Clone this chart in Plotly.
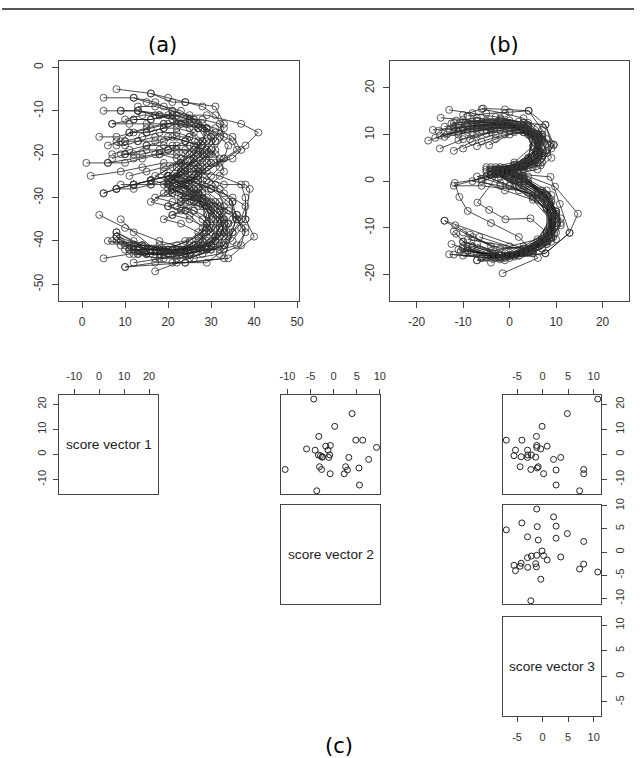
import plotly.graph_objects as go

# (a) raw digit trajectories, one list per written "3"
a_x = [
    [8, 16, 21, 24, 31, 33, 30, 25, 22, 27, 32, 34, 32, 25, 17, 10],
    [5, 12, 17, 21, 26, 29, 27, 22, 20, 25, 29, 30, 26, 19, 11, 5],
    [5, 9, 13, 21, 29, 37, 41, 38, 32, 27, 33, 38, 39, 38, 40, 34, 24, 10],
    [7, 12, 16, 21, 25, 29, 31, 28, 24, 21, 26, 31, 33, 31, 27, 21, 14, 9],
    [12, 16, 20, 24, 28, 31, 35, 36, 33, 29, 25, 30, 35, 38, 37, 33, 22, 17],
    [11, 15, 19, 22, 26, 28, 26, 21, 17, 22, 27, 30, 29, 25, 19, 13, 8],
    [8, 10, 14, 18, 22, 25, 26, 23, 19, 16, 20, 25, 28, 29, 27, 22, 16, 11],
    [8, 10, 13, 17, 21, 24, 27, 28, 25, 21, 19, 23, 28, 32, 33, 30, 23, 15, 9],
    [10, 13, 17, 20, 24, 28, 31, 32, 30, 28, 30, 33, 35, 35, 33, 29, 22, 15],
    [7, 10, 15, 20, 24, 28, 30, 27, 23, 21, 25, 29, 32, 33, 30, 24, 16, 8],
    [1, 6, 12, 17, 22, 26, 28, 25, 21, 24, 29, 32, 31, 27, 20, 14],
    [2, 9, 14, 19, 23, 26, 27, 24, 21, 25, 30, 33, 32, 28, 22, 16],
    [5, 8, 12, 16, 20, 23, 22, 19, 16, 20, 25, 28, 28, 24, 18, 12],
    [9, 12, 15, 19, 22, 25, 28, 30, 28, 24, 21, 25, 29, 32, 34, 31, 25, 18, 11],
    [6, 9, 11, 15, 19, 23, 27, 29, 27, 23, 20, 24, 28, 30, 29, 25, 18, 11, 7],
    [16, 20, 24, 28, 31, 33, 31, 28, 24, 21, 25, 30, 34, 36, 35, 33, 29, 21],
    [9, 13, 18, 22, 27, 31, 35, 37, 35, 31, 27, 32, 37, 38, 38, 35, 33, 24, 17, 10],
    [12, 15, 19, 23, 26, 29, 28, 25, 22, 20, 24, 27, 29, 28, 24, 18, 12],
    [5, 8, 12, 16, 20, 24, 27, 26, 23, 21, 25, 29, 31, 29, 24, 17, 12, 9],
    [9, 12, 16, 20, 24, 27, 29, 27, 24, 22, 26, 30, 32, 30, 25, 18, 10, 4],
    [11, 15, 19, 23, 26, 28, 25, 21, 17, 21, 26, 29, 29, 26, 20, 14, 8],
    [6, 10, 14, 18, 22, 26, 29, 30, 27, 23, 21, 26, 30, 33, 34, 33, 28, 22, 13],
    [13, 17, 21, 25, 29, 32, 34, 33, 29, 25, 22, 27, 32, 36, 37, 35, 30, 23, 15, 12],
    [7, 11, 15, 19, 23, 27, 30, 31, 29, 25, 22, 26, 30, 34, 36, 38, 37, 32, 26, 17, 8],
    [10, 14, 18, 21, 25, 29, 32, 33, 30, 26, 23, 28, 33, 36, 38, 36, 32, 26, 20, 13],
    [12, 16, 20, 23, 26, 28, 27, 24, 21, 19, 23, 27, 29, 28, 24, 19, 12],
    [10, 14, 18, 22, 25, 27, 24, 20, 18, 22, 27, 31, 33, 31, 26, 20, 13, 8],
    [8, 12, 16, 20, 24, 27, 28, 26, 23, 20, 24, 28, 30, 31, 29, 25, 19, 12],
    [13, 17, 21, 25, 28, 30, 29, 26, 24, 26, 29, 31, 32, 30, 26, 21, 16],
    [7, 11, 15, 19, 22, 24, 23, 21, 20, 23, 27, 30, 31, 30, 27, 22, 16, 10, 6],
    [4, 8, 12, 16, 20, 24, 28, 32, 33, 30, 26, 23, 27, 32, 35, 36, 34, 30, 25, 18, 12],
    [15, 19, 22, 25, 27, 26, 23, 21, 20, 24, 28, 31, 33, 32, 28, 22, 15, 8],
]
a_y = [
    [-5, -6, -8, -8, -9, -13, -17, -21, -25, -27, -31, -36, -41, -43, -44, -42],
    [-7, -7, -8, -10, -12, -15, -19, -23, -25, -28, -32, -37, -41, -43, -43, -44],
    [-10, -10, -10, -11, -11, -13, -15, -18, -22, -25, -27, -27, -28, -35, -39, -44, -45, -46],
    [-13, -12, -12, -11, -12, -14, -17, -20, -23, -26, -28, -31, -35, -39, -41, -42, -41, -40],
    [-12, -12, -11, -13, -14, -15, -17, -19, -21, -23, -26, -28, -30, -32, -35, -41, -45, -47],
    [-15, -15, -14, -14, -15, -17, -20, -23, -25, -27, -29, -33, -37, -40, -42, -42, -39],
    [-17, -17, -16, -15, -15, -16, -18, -21, -24, -26, -27, -29, -32, -36, -39, -41, -42, -42],
    [-18, -18, -17, -17, -16, -17, -18, -21, -24, -26, -27, -29, -31, -34, -38, -41, -42, -43, -41],
    [-17, -17, -16, -16, -17, -18, -20, -23, -25, -27, -28, -29, -31, -35, -39, -42, -43, -43],
    [-21, -20, -19, -19, -19, -20, -22, -25, -27, -28, -30, -32, -35, -38, -41, -42, -42, -40],
    [-22, -22, -21, -20, -20, -21, -23, -26, -28, -30, -32, -36, -40, -42, -42, -41],
    [-25, -24, -23, -22, -22, -23, -25, -27, -29, -31, -33, -36, -39, -41, -42, -42],
    [-29, -28, -27, -26, -25, -25, -27, -29, -31, -32, -34, -37, -40, -42, -42, -42],
    [-20, -20, -18, -17, -16, -16, -17, -19, -22, -24, -26, -28, -30, -33, -36, -40, -42, -43, -42],
    [-18, -17, -15, -14, -13, -13, -14, -17, -21, -24, -26, -28, -31, -35, -38, -41, -42, -41, -40],
    [-6, -7, -8, -9, -11, -14, -17, -20, -23, -25, -26, -28, -31, -34, -38, -42, -45, -45],
    [-10, -10, -11, -12, -13, -14, -16, -19, -21, -22, -24, -25, -27, -30, -35, -38, -44, -45, -45, -46],
    [-7, -8, -9, -10, -12, -14, -17, -20, -23, -25, -27, -30, -34, -38, -40, -41, -41],
    [-29, -28, -28, -27, -27, -26, -28, -31, -33, -34, -35, -37, -39, -42, -43, -42, -38, -35],
    [-27, -27, -26, -25, -24, -24, -26, -29, -31, -32, -33, -35, -38, -41, -42, -40, -37, -34],
    [-25, -24, -23, -22, -22, -24, -27, -29, -30, -31, -33, -36, -39, -42, -42, -41, -38],
    [-22, -22, -21, -20, -19, -19, -20, -22, -25, -27, -28, -30, -32, -35, -38, -41, -43, -44, -42],
    [-10, -11, -12, -13, -14, -16, -18, -21, -24, -26, -27, -29, -32, -34, -37, -40, -42, -43, -43, -42],
    [-13, -13, -13, -13, -13, -14, -16, -19, -22, -25, -27, -29, -31, -33, -35, -37, -41, -43, -44, -42, -39],
    [-20, -20, -19, -18, -18, -19, -21, -24, -27, -29, -30, -31, -33, -35, -38, -41, -42, -42, -43, -43],
    [-27, -27, -26, -26, -27, -29, -31, -33, -34, -35, -36, -38, -40, -42, -43, -42, -40],
    [-12, -11, -11, -11, -12, -14, -17, -19, -20, -21, -23, -27, -32, -37, -41, -43, -43, -39],
    [-28, -27, -26, -25, -25, -26, -28, -30, -31, -32, -33, -35, -37, -39, -41, -43, -44, -45],
    [-9, -9, -10, -11, -13, -16, -20, -24, -27, -29, -31, -34, -37, -40, -42, -43, -42],
    [-20, -19, -18, -18, -18, -20, -23, -26, -29, -31, -32, -33, -35, -38, -40, -42, -42, -41, -40],
    [-16, -16, -15, -14, -13, -12, -12, -13, -16, -20, -22, -24, -26, -28, -31, -35, -39, -42, -44, -44, -43],
    [-15, -14, -13, -14, -17, -21, -24, -26, -28, -29, -30, -32, -36, -39, -41, -42, -42, -38],
]

# (b) aligned trajectories
b_x = [
    [-13, -8, -3, 2, 5, 4, -1, 3, 7, 10, 9, 4, -3, -13],
    [-14.8, -10, -5, 0, 4, 5, 1, -3, 2, 8, 9, 5, -2, -12],
    [-17.5, -12, -7, -2, 3, 6, 2, -4, 1, 7, 10, 6, 0, -10.5],
    [-15, -10, -5, 0, 5, 7, 3, -3, 2, 8, 10, 7, 1, -11],
    [-12, -8, -3, 2, 6, 7, 3, -2, 4, 9, 11, 7, 0, -10],
    [-15.3, -11, -6, -1, 4, 6, 1, -5, 0, 6, 9, 6, 0, -9],
    [-14, -9, -4, 1, 5, 4, -3, -12, -6, 2, 8, 9, 3, -14],
    [-12.5, -8, -3, 2, 6, 6, 1, -6, -11.8, -10.8, -9, -4, 2, 6.1, -1.5],
    [-16, -11, -6, -1, 3, 5, 1, -4, 3, 8, 10, 7, 1, -7],
    [-11, -7, -2, 3, 7, 7, 3, -2, 4, 9, 11, 8, 2, -4],
    [-10, -6, -1, 4, 7, 6, 1, -5, 1, 7, 10, 8, 3, -5],
    [-11.5, -7, -2, 3, 7.7, 9.5, 6.7, 1, -4, 2, 8.8, 10.8, 12.9, 7.7, -1, -9.5],
    [-9, -5, 0, 4.1, 7.7, 9, 5, -1, 4, 9.8, 14.7, 12.9, 7.7, 0, -8],
    [-10, -5.7, -1, 4.1, 7, 6, 2, -3, 3, 9, 10, 7, 1, -6],
    [-7, -3, 1, 5, 6, 3, -2, -6.9, -4.4, -0.9, 4.5, 8, 5, -1, -8],
    [-4.4, 0, 4, 6, 4, -1, 3, 7, 9, 7, 2, -4, -9],
    [-8.5, -4, 1, 5, 7, 5, 0, -7, -2, 5, 9, 8, 3, -6.5],
    [-6, -1, 3, 6, 8, 6, 1, -5, 2, 8, 10, 8, 2, -6],
    [-13.5, -9, -4, 1, 5, 6, 2, -4, -8, -2, 4, 8, 8, 4, -3, -10],
    [-12, -7, -2, 3, 6, 5, 0, -5, 0, 6, 9, 9, 5, -1, -8.5],
    [-9.5, -5, 0, 4, 7, 6, 2, -3, 2, 7, 10, 9, 4, -2, -7],
    [-8, -4, 0, 4, 7, 5, 0, -4, 2, 8, 9, 6, 0, -4],
    [-5, 0, 4, 7, 6, 1, -4, 1, 6, 9, 8, 3, -4, -10, -14],
    [-7, -2, 3, 6, 5, 1, -3, 2, 7, 10, 9, 5, -2, -8, -11.7],
    [-15, -10, -5, 0, 4, 6, 3, -2, 3, 8, 10, 8, 3, -4, -10, -12],
    [-11, -7, -2, 2, 6, 7, 3, -2, 3, 8, 10, 9, 4, -3, -9, -11.5],
    [-12, -7, -2, 3, 7, 9, 6, 1, -3, 3, 8, 11, 10, 5, -2, -9],
    [-14, -9, -4, 1, 6, 9.5, 7, 2, -3, 2, 7, 10, 9, 4, -3, -10],
    [-10, -6, -1, 3, 6, 8, 5, 0, -5, 0, 5, 9, 10, 8, 3, -4, -10],
    [-16.5, -12, -7, -2, 3, 7, 8, 5, 0, -4, 1, 6, 9, 8, 3, -3, -9],
    [-11, -6, -1, 4, 8, 9, 6, 1, -2, 3, 8, 10, 9, 5, -1, -7],
    [-13, -8, -3, 2, 6, 7, 4, 0, -6, -1, 5, 9, 9, 5, -1, -7, -12.5],
]
b_y = [
    [15.3, 14.6, 13.8, 12.8, 9.5, 5, 2.8, 0.5, -2.5, -7, -12, -15.5, -16.5, -15.7],
    [13.6, 13.2, 12.6, 12, 10, 6, 3, 1.5, -1, -5, -10.5, -15, -16.8, -15.8],
    [8.7, 10.5, 11.6, 12, 10.5, 6.5, 3.5, 2, 0, -3.5, -9, -14, -16, -15],
    [7, 9, 10.2, 10.8, 9.8, 6, 3, 1.5, -1, -4.5, -9.5, -14.5, -16.2, -14.7],
    [6.5, 8.5, 10, 11, 9.5, 5.5, 3, 2.5, 0, -4, -9.5, -14.5, -15.8, -13],
    [10.8, 11.5, 12.2, 12.5, 11, 7, 3.5, 2.5, 0.5, -3, -8, -12.5, -14, -12.5],
    [11.7, 12.4, 12.6, 12, 9, 5, 1.5, -1, -1, -2, -6, -11, -14.5, -8.5],
    [12.4, 12.8, 12.5, 11.5, 9, 5, 2, 0.5, -0.4, -3.4, -6.4, -9, -12, -16.5, -19.8],
    [9.3, 10.5, 11.5, 12, 11, 7.5, 4, 3, 1, -3, -8, -13, -16, -17],
    [10, 11, 11.5, 11.5, 9.5, 5.5, 2.5, 2, -0.5, -4.5, -9, -13.5, -16, -17.5],
    [11.2, 12, 12.3, 12, 9.5, 5, 3, 3, 1, -2.5, -7, -12, -15, -16.5],
    [13, 13.5, 13.2, 12.5, 12.1, 7.8, 3.4, 2, 1.5, 1.5, 0.9, -4.9, -11.1, -15.5, -16.5, -15.5],
    [14, 14.5, 14.8, 15.1, 12.1, 8, 4, 2, 1, -1.2, -7, -11.1, -15.5, -16.5, -14],
    [14.2, 15.6, 15.4, 15.1, 11, 6, 3, 2.5, 0.5, -3, -8, -13, -15.5, -16.5],
    [7.5, 9, 10.5, 10, 7, 4, 2, -4.6, -6.2, -8.2, -8, -11, -14.5, -16, -14],
    [7.7, 10, 10.5, 8, 4, 2, 0, -3, -8, -12.5, -15.5, -16, -14.5],
    [9, 10.5, 11.5, 10.5, 7.5, 4, 2, 1, -0.5, -3, -8, -12.5, -15, -12],
    [15.5, 14.5, 13.5, 11.5, 8, 4, 2.5, 2, 0.5, -3, -8, -13, -16, -16.5],
    [10, 11, 11.5, 11.5, 10, 6, 3, 1.5, 0, -1, -2.5, -6, -11, -14.5, -16, -16],
    [11.5, 12, 12, 11.5, 9, 5, 2.5, 1, -1, -3.5, -7, -11, -14.5, -15.5, -11.5],
    [12.5, 13, 13, 12.5, 10, 6, 3.5, 3, 1.5, -2, -6.5, -11.5, -15, -16, -13.5],
    [10.5, 11.5, 12, 11.5, 8.5, 4.5, 2.5, 2.5, 1, -3, -7.5, -13, -16, -16.5],
    [11, 11.5, 11, 9, 5, 2.5, 2, 0.5, -2.5, -7, -11.5, -14.5, -14, -11, -8.5],
    [13, 13.5, 12.5, 10, 6, 3.5, 2.5, 0.5, -2.5, -6.5, -11, -14, -14.5, -12, -9.5],
    [9.8, 11, 12, 12.5, 11, 7, 4, 3, 1, -2, -6.5, -11, -14, -15, -13, -10.8],
    [8.8, 10, 11, 11, 9, 5, 2.5, 2, 0, -3.5, -8, -12, -15, -16, -14, -11.3],
    [12.5, 13, 12.8, 12, 10, 7, 4, 2.5, 2, 0.5, -3, -8, -12.5, -15.5, -16.5, -15],
    [9.5, 10.5, 11.2, 11.5, 10, 7.8, 4, 2.5, 1.5, 0, -3, -7.5, -12, -15, -16, -14.5],
    [7, 8.5, 10, 10.5, 9.5, 6.5, 3.5, 2, 1, -1, -3.5, -7, -11, -13.5, -15.5, -16, -14],
    [11, 11.5, 12, 12.5, 12, 9, 6, 3, 2, 1.5, -0.5, -4, -8.5, -13, -15.5, -16, -15],
    [12, 12.6, 12.8, 12, 9, 5, 2.5, 1.5, 1, -1, -4.5, -9, -13, -15.5, -17, -17],
    [11, 11.8, 12.2, 12, 10, 6, 3, 2, 0, -2, -4, -8.5, -12, -15, -16, -15.5, -13.5],
]

# (c) score vectors
sv1 = [22.1, 16.3, 11.2, 7.2, 5.7, 5.7, 3.6, 3.3, 2.8, 2.2, 1.7, 1.7, -0.2, -0.2, -0.5,
       -0.95, -1.1, -1.2, -1.2, -2.0, -4.9, -4.9, -5.4, -6.2, -6.0, -6.0, -7.7, -7.7, -12.2, -14.5]
sv2 = [-4.3, 4.0, 0.25, -3.2, 4.8, 6.3, -0.7, -1.7, 9.3, -5.85, -4.0, -1.2, -3.3, -0.85, -2.85,
       -2.4, -2.5, -1.05, 3.3, 7.6, -3.05, 2.6, 5.5, 3.0, -10.5, -2.6, -0.75, 2.3, 5.6, -3.65]
sv3 = [10.8, 4.85, -0.1, -1.2, -7.1, -4.05, -1.15, 0.9, -1.15, -0.35, -5.3, -2.95, -2.9, -2.2, -5.6,
       -4.2, -1.35, 3.55, -2.95, 2.15, -4.4, -0.85, -1.05, 2.65, -2.3, 8.05, 0.2, 8.05, 2.65, 7.25]
score_names = ["score vector 1", "score vector 2", "score vector 3"]

a_xticks = [0, 10, 20, 30, 40, 50]
a_yticks = [-50, -40, -30, -20, -10, 0]
b_ticks = [-20, -10, 0, 10, 20]
sv1_ticks = [-10, 0, 10, 20]
sv2_ticks = [-10, -5, 0, 5, 10]
sv3_ticks = [-5, 0, 5, 10]

W, H = 640, 758
LINE = "#444"
TICKFONT = "Liberation Sans"


def px(x0, x1):
    return [x0 / W, x1 / W]


def py(y0, y1):
    return [1 - y1 / H, 1 - y0 / H]


def pad(v):
    lo, hi = min(v), max(v)
    d = (hi - lo) * 0.04
    return [lo - d, hi + d]


def axis(domain, rng, anchor, ticks=None, side=None, size=11, angle=0, standoff=3, ticklen=5):
    d = dict(domain=domain, range=rng, anchor=anchor, showline=True, mirror=True,
             linecolor=LINE, linewidth=1, showgrid=False, zeroline=False, fixedrange=True)
    if ticks:
        # plain hyphen minus like R, not the unicode minus plotly uses
        d.update(tickmode="array", tickvals=ticks, ticktext=[str(t) for t in ticks],
                 ticks="outside", ticklen=ticklen,
                 tickcolor=LINE, tickwidth=1, side=side, tickangle=angle,
                 ticklabelstandoff=standoff,
                 tickfont=dict(family=TICKFONT, size=size, color="#333"))
    else:
        d.update(showticklabels=False, ticks="")
    return d


def joined(groups):
    out = []
    for g in groups:
        out += list(g) + [None]
    return out


fig = go.Figure()

traj_style = dict(mode="lines+markers", line=dict(color="#111", width=0.75),
                  marker=dict(symbol="circle-open", size=7, color="#333",
                              line=dict(width=0.8, color="#333")),
                  showlegend=False, hoverinfo="skip")
fig.add_trace(go.Scatter(x=joined(a_x), y=joined(a_y), xaxis="x", yaxis="y", **traj_style))
fig.add_trace(go.Scatter(x=joined(b_x), y=joined(b_y), xaxis="x2", yaxis="y2", **traj_style))

pt_style = dict(mode="markers", marker=dict(symbol="circle-open", size=6, color="#222",
                                            line=dict(width=1, color="#222")),
                showlegend=False, hoverinfo="skip")
# upper panels of the pairs plot: x = column variable, y = row variable
fig.add_trace(go.Scatter(x=[], y=[], xaxis="x3", yaxis="y3", **pt_style))
fig.add_trace(go.Scatter(x=sv2, y=sv1, xaxis="x4", yaxis="y4", **pt_style))
fig.add_trace(go.Scatter(x=sv3, y=sv1, xaxis="x5", yaxis="y5", **pt_style))
fig.add_trace(go.Scatter(x=[], y=[], xaxis="x6", yaxis="y6", **pt_style))
fig.add_trace(go.Scatter(x=sv3, y=sv2, xaxis="x7", yaxis="y7", **pt_style))
fig.add_trace(go.Scatter(x=[], y=[], xaxis="x8", yaxis="y8", **pt_style))

r1, r2, r3 = pad(sv1), pad(sv2), pad(sv3)
c1, c2, c3 = px(58, 158), px(283, 383), px(507, 607)
w1, w2, w3 = py(392, 492), py(503, 603), py(616, 716)

fig.update_layout(
    width=W, height=H, margin=dict(l=0, r=0, t=0, b=0),
    paper_bgcolor="white", plot_bgcolor="white",
    xaxis=axis(px(58, 301), [-5.3, 50.5], "y", a_xticks, "bottom", 12, 0, 3, 6),
    yaxis=axis(py(54, 297), [-53.9, 1.6], "x", a_yticks, "left", 12, -90, 4, 6),
    xaxis2=axis(px(393, 635), [-25.7, 25.7], "y2", b_ticks, "bottom", 12, 0, 3, 6),
    yaxis2=axis(py(54, 297), [-25.8, 25.9], "x2", b_ticks, "left", 12, -90, 4, 6),
    xaxis3=axis(c1, r1, "y3", sv1_ticks, "top", 11, 0, 5),
    yaxis3=axis(w1, r1, "x3", sv1_ticks, "left", 11, -90, 3),
    xaxis4=axis(c2, r2, "y4", sv2_ticks, "top", 11, 0, 5),
    yaxis4=axis(w1, r1, "x4"),
    xaxis5=axis(c3, r3, "y5", sv3_ticks, "top", 11, 0, 5),
    yaxis5=axis(w1, r1, "x5", sv1_ticks, "right", 11, -90, 3),
    xaxis6=axis(c2, r2, "y6"),
    yaxis6=axis(w2, r2, "x6"),
    xaxis7=axis(c3, r3, "y7"),
    yaxis7=axis(w2, r2, "x7", sv2_ticks, "right", 11, -90, 3),
    xaxis8=axis(c3, r3, "y8", sv3_ticks, "bottom", 11, 0, 5),
    yaxis8=axis(w3, r3, "x8", sv3_ticks, "right", 11, -90, 3),
)

# panel titles
for label, x, y in [("(a)", 163, 38), ("(b)", 508, 38), ("(c)", 341, 746)]:
    fig.add_annotation(x=x / W, y=1 - y / H, xref="paper", yref="paper", text=label,
                       xanchor="center", yanchor="middle", showarrow=False,
                       font=dict(family="DejaVu Sans", size=21, color="black"))

# diagonal labels of the pairs plot
for name, cx, cy in zip(score_names, [c1, c2, c3], [w1, w2, w3]):
    fig.add_annotation(x=sum(cx) / 2, y=sum(cy) / 2, xref="paper", yref="paper", text=name,
                       xanchor="center", yanchor="middle", showarrow=False,
                       font=dict(family=TICKFONT, size=13.7, color="#222"))

# rule along the top of the page
fig.add_shape(type="line", xref="paper", yref="paper", x0=0, x1=1, y0=1 - 2 / H, y1=1 - 2 / H,
              line=dict(color="#555", width=2))

pin = ("document.documentElement.style.margin='0';document.body.style.margin='0';"
       "document.body.style.padding='0';"
       "var g=document.getElementsByClassName('plotly-graph-div')[0];"
       "g.style.position='absolute';g.style.left='0px';g.style.top='0px';")
fig.write_html("out.html", config={"displayModeBar": False}, post_script=pin)
